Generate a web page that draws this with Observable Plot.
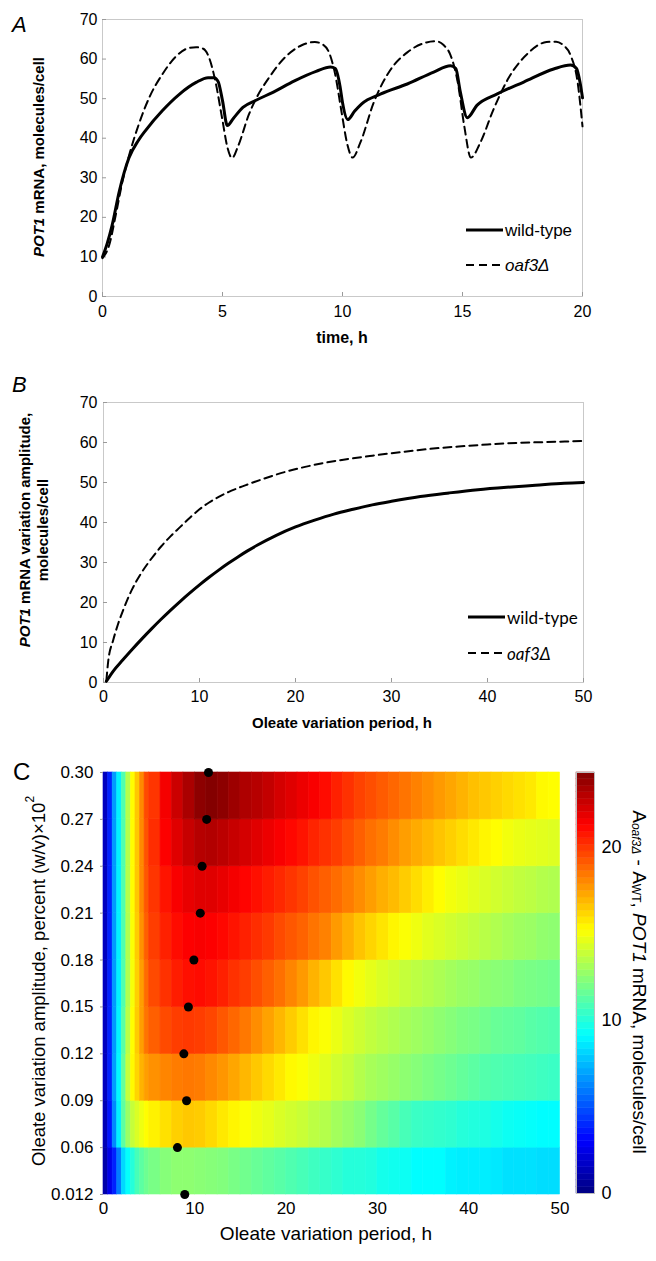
<!DOCTYPE html>
<html><head><meta charset="utf-8">
<script src="https://cdn.jsdelivr.net/npm/d3@7"></script>
<script src="https://cdn.jsdelivr.net/npm/@observablehq/plot@0.6"></script>
<style>
body{margin:0;background:#fff;}
#wrap{position:relative;width:656px;height:1261px;overflow:hidden;font-family:"Liberation Sans",Arial,sans-serif;background:#fff;}
.plab{position:absolute;line-height:1;color:#000;}
</style></head><body><div id="wrap"></div>
<script>
// ---------- Panel A: POT1 mRNA time course ----------
const timeWT = [0,0.2,0.4,0.7,1.1,1.5,1.8,2.5,3.2,3.9,4.4,4.65,4.82,5.0,5.2,5.45,5.85,6.4,7.1,8.0,8.9,9.5,9.7,9.9,10.0,10.22,10.5,10.8,11.6,12.7,13.8,14.5,14.72,14.9,15.2,15.6,16.45,17.55,18.8,19.5,19.75,19.9,20.0];
const mrnaWT = [10,13.5,18,26.6,35,39.5,42,47,51.1,54.1,55.3,55.3,54.3,49.5,43.2,45,47.8,49.6,51.6,54.5,56.9,58,57.6,53,49,44.7,46.8,48.7,51.2,53.7,56.7,58.3,57.6,52,45.2,48.3,51.2,54.2,57.5,58.5,57.6,54,50.2];
const timeOaf = [0,0.28,0.55,0.83,1.1,1.5,1.95,2.5,3.05,3.6,3.9,4.2,4.45,4.7,5.0,5.2,5.4,5.65,6.1,6.4,6.95,7.6,8.3,8.85,9.2,9.45,9.7,9.95,10.2,10.42,10.75,11.3,12.0,12.7,13.5,13.9,14.2,14.5,14.8,15.07,15.35,15.75,16.3,16.9,17.7,18.5,18.9,19.2,19.5,19.8,20.0];
const mrnaOaf = [9.7,13,20.5,29,35.5,43.3,50.3,56.2,60.6,62.8,63,62.6,60.2,54.5,44.5,37.8,35,38,46,50,55.4,60.4,63.5,64.3,63.6,61.5,56,47,38.5,35.1,39,49,57.3,61.7,64.2,64.5,63.6,61,54.2,43.2,35.1,39,47.4,55,61.3,64.3,64.4,63.5,61,54,43];
const xTicksA = [0,5,10,15,20];
const yTicks = [0,10,20,30,40,50,60,70];

// ---------- Panel B: variation amplitude vs period ----------
const periodWT = [0.3,1,2,3,4,5,6,7,8,9,10,11,12,13,14,15,16,18,20,22,24,26,28,30,33,36,39,42,45,48,50];
const amplWT = [0.3,2.8,5.6,8.3,10.9,13.4,15.8,18.1,20.3,22.4,24.4,26.3,28.1,29.8,31.4,32.9,34.3,36.8,38.9,40.6,42.1,43.3,44.4,45.3,46.5,47.4,48.2,48.8,49.3,49.8,50];
const periodOaf = [0.3,0.5,1,1.5,2,2.5,3,4,5,6,7,8,9,10,11,12,13,14,15,17,19,21,23,25,28,31,34,37,40,43,46,50];
const amplOaf = [0.5,5.5,10.5,14.5,17.8,20.8,23.4,27.6,31,34,36.6,38.9,41.2,43.3,45,46.4,47.6,48.6,49.5,51.2,52.7,53.9,54.9,55.7,56.7,57.6,58.4,59,59.5,59.9,60.1,60.4];
const xTicksB = [0,10,20,30,40,50];

// ---------- Panel C: heat map ----------
const ampLabels = ["0.012","0.06","0.09","0.12","0.15","0.18","0.21","0.24","0.27","0.30"];
const periodEdges = [0,0.5,1,1.5,2,2.5,3,3.5,4,4.5,5,6.25,7.5,8.75,10,11.25,12.5,13.75,15,16.25,17.5,18.75,20,21.25,22.5,23.75,25,26.25,27.5,28.75,30,31.25,32.5,33.75,35,36.25,37.5,38.75,40,41.25,42.5,43.75,45,46.25,47.5,48.75,50];
const diff0012 = [1,2.5,3.8,6,8.2,9.2,10,10.8,11.3,11.7, 12,12.3,12.5,12.5,12.4,12.3,12.2,12,11.8,11.6,11.4,11.2,11,10.8,10.6,10.4,10.2,10,10,9.9,9.6,9.5,9.4,9.1,9.1,9.1,8.8,8.7,8.7,8.7,8.6,8.4,8.4,8.4,8.3,8.3];
const diff006 = [1.3,3.5,6.3,8.8,11.3,12.8,13.8,14.3,14.8,15.2, 15.5,15.9,16.3,16.5,16.4,16.1,15.7,15.4,15.1,14.8,14.6,14.3,14.1,13.9,13.6,13.4,13,12.7,12.4,11.9,11.5,11.2,10.8,10.5,10.4,10.3,10.2,10,9.9,9.8,9.6,9.4,9.3,9.2,9.1,9.1];
const diff009 = [1.5,3.8,6.8,9,11.5,13.8,15.3,16.2,17,17.5, 17.8,18.1,18.3,18.4,18.3,18,17.7,17.3,16.9,16.5,16.1,15.7,15.3,15.1,14.8,14.5,14.1,13.8,13.4,13.1,12.9,12.7,12.5,12.3,12.1,11.9,11.7,11.5,11.3,11.1,11,10.9,10.8,10.7,10.6,10.5];
const diff012 = [1.5,3.8,6.7,8.9,11.2,13.5,15.2,16.4,17.5,18.5, 19,19.5,19.8,19.9,19.8,19.6,19.2,18.8,18.4,17.9,17.4,16.9,16.4,15.9,15.4,15.1,14.7,14.3,14,13.7,13.5,13.3,13.1,12.9,12.7,12.5,12.3,12.1,12,11.8,11.6,11.5,11.4,11.2,11.1,11];
const diff015 = [1.5,3.8,6.7,8.8,11,13.3,15,16.3,17.5,18.7, 19.5,20.1,20.6,20.9,21,20.8,20.5,20.1,19.8,19.4,19,18.6,18.1,17.6,17,16.5,15.9,15.3,14.9,14.6,14.3,14.1,13.8,13.6,13.4,13.2,13,12.8,12.7,12.5,12.4,12.3,12.1,12,11.9,11.8];
const diff018 = [1.5,3.8,6.7,8.8,11,13.3,15.1,16.4,17.8,19, 19.8,20.5,21,21.3,21.4,21.3,21.1,20.8,20.5,20.2,19.9,19.5,19.2,18.9,18.5,18.2,17.6,17.1,16.6,16.2,15.8,15.4,15.1,14.8,14.5,14.3,14.1,13.9,13.7,13.5,13.3,13.1,12.9,12.8,12.6,12.5];
const diff021 = [1.5,3.8,6.7,8.8,11,13.4,15.2,16.5,18,19.2, 20,20.8,21.4,21.8,22,22,21.8,21.5,21.2,20.9,20.6,20.3,20,19.7,19.3,19,18.7,18.3,17.9,17.5,17.1,16.8,16.4,16,15.6,15.2,14.9,14.7,14.5,14.3,14.1,13.9,13.7,13.6,13.4,13.3];
const diff024 = [1.5,3.8,6.7,8.8,11,13.4,15.2,16.5,18,19.3, 20.2,21.3,22,22.6,23,23.1,22.9,22.6,22.3,22,21.7,21.4,21.1,20.8,20.4,20.1,19.8,19.4,19,18.6,18.3,17.9,17.5,17.2,16.9,16.6,16.3,16,15.7,15.4,15.2,14.9,14.7,14.6,14.5,14.4];
const diff027 = [1.5,3.8,6.7,8.8,11,13.4,15.2,16.5,18,19.5, 20,21.5,22.5,23.3,24,24.2,24,23.6,23.2,23,22.7,22.3,22,21.7,21.4,21,20.5,20.1,19.7,19.4,19.1,18.8,18.5,18.2,17.9,17.6,17.3,17,16.7,16.5,16.3,16.1,15.9,15.7,15.3,15.2];
const peakPeriod = [8.9,8.1,9.1,8.8,9.3,9.9,10.6,10.8,11.3,11.5];
const xTicksC = [0,10,20,30,40,50];
const colorTicks = [0,10,20];
const colorMax = 24.3;

// ---------- helpers ----------
const FONT = '"Liberation Sans", Arial, Helvetica, sans-serif';
const wrap = document.getElementById("wrap");
function place(node, left, top) {
  node.style.position = "absolute"; node.style.left = left + "px"; node.style.top = top + "px";
  wrap.appendChild(node);
}
function svgText(svg, x, y, rotate, parts, o) {
  const t = d3.select(svg).append("text")
    .attr("transform", `translate(${x},${y}) rotate(${rotate})`)
    .attr("text-anchor", o.anchor || "middle")
    .attr("dominant-baseline", "central")
    .attr("fill", "black")
    .style("font-family", o.family || FONT)
    .style("font-size", o.size + "px")
    .style("font-weight", o.weight || "normal");
  for (const p of parts) {
    const ts = t.append("tspan").text(p.t);
    if (p.italic) ts.style("font-style", "italic");
    if (p.size) ts.style("font-size", p.size + "px");
    if (p.dy) ts.attr("dy", p.dy);
  }
  return t;
}
function legendItem(svg, x, y, dashed, parts, family, size) {
  const g = d3.select(svg).append("g");
  g.append("line").attr("x1", x).attr("x2", x + 37).attr("y1", y).attr("y2", y)
    .attr("stroke", "black").attr("stroke-width", dashed ? 2 : 3)
    .attr("stroke-dasharray", dashed ? "8,5" : null);
  svgText(svg, x + 39, y, 0, parts, {anchor: "start", family, size});
}
function label(text, left, top, size, italic) {
  const d = document.createElement("div");
  d.className = "plab"; d.textContent = text;
  d.style.left = left + "px"; d.style.top = top + "px";
  d.style.fontSize = size + "px"; d.style.fontStyle = italic ? "italic" : "normal";
  wrap.appendChild(d);
}

const jetColors = ["#000080", "#0000ff", "#00ffff", "#ffff00", "#ff0000", "#800000"];
const jetScale = {type: "linear", domain: [0, 0.125, 0.375, 0.625, 0.875, 1].map(t => t * colorMax), range: jetColors, interpolate: "rgb"};

// ---------- Panel A ----------
const wtA = timeWT.map((t, i) => ({t, v: mrnaWT[i]}));
const oafA = timeOaf.map((t, i) => ({t, v: mrnaOaf[i]}));
const plotA = Plot.plot({
  width: 656, height: 350, marginLeft: 102, marginRight: 74, marginTop: 19, marginBottom: 54,
  style: {fontFamily: FONT, fontSize: "16px", background: "transparent", overflow: "visible", color: "black"},
  x: {domain: [0, 20]}, y: {domain: [0, 70]},
  marks: [
    Plot.frame({stroke: "#c9c9c9"}),
    Plot.axisX({ticks: xTicksA, tickSize: -4, tickPadding: 13, stroke: "#9a9a9a", fill: "black", fontSize: 16, label: null}),
    Plot.axisY({ticks: yTicks, tickSize: -4, tickPadding: 9, stroke: "#9a9a9a", fill: "black", fontSize: 16, label: null}),
    Plot.line(oafA, {x: "t", y: "v", stroke: "black", strokeWidth: 2, strokeDasharray: "8,5", curve: "monotone-x"}),
    Plot.line(wtA, {x: "t", y: "v", stroke: "black", strokeWidth: 3, curve: "monotone-x"})
  ]
});
place(plotA, 0, 0);
svgText(plotA, 38, 157, -90, [{t: "POT1", italic: true}, {t: " mRNA, molecules/cell"}], {size: 15, weight: "bold"});
svgText(plotA, 342, 337, 0, [{t: "time, h"}], {size: 16, weight: "bold"});
legendItem(plotA, 466, 230, false, [{t: "wild-type"}], FONT, 17);
legendItem(plotA, 466, 265, true, [{t: "oaf3Δ", italic: true}], FONT, 17);
label("A", 12, 14, 22, true);

// ---------- Panel B ----------
const wtB = periodWT.map((p, i) => ({p, v: amplWT[i]}));
const oafB = periodOaf.map((p, i) => ({p, v: amplOaf[i]}));
const plotB = Plot.plot({
  width: 656, height: 390, marginLeft: 103, marginRight: 73, marginTop: 52, marginBottom: 58,
  style: {fontFamily: FONT, fontSize: "16px", background: "transparent", overflow: "visible", color: "black"},
  x: {domain: [0, 50]}, y: {domain: [0, 70]},
  marks: [
    Plot.frame({stroke: "#c9c9c9"}),
    Plot.axisX({ticks: xTicksB, tickSize: -4, tickPadding: 12, stroke: "#9a9a9a", fill: "black", fontSize: 16, label: null}),
    Plot.axisY({ticks: yTicks, tickSize: -4, tickPadding: 10, stroke: "#9a9a9a", fill: "black", fontSize: 16, label: null}),
    Plot.line(oafB, {x: "p", y: "v", stroke: "black", strokeWidth: 2, strokeDasharray: "8,5", curve: "monotone-x"}),
    Plot.line(wtB, {x: "p", y: "v", stroke: "black", strokeWidth: 3, curve: "monotone-x"})
  ]
});
place(plotB, 0, 350);
svgText(plotB, 24, 180, -90, [{t: "POT1", italic: true}, {t: " mRNA variation amplitude,"}], {size: 15, weight: "bold"});
svgText(plotB, 42, 180, -90, [{t: "molecules/cell"}], {size: 15, weight: "bold"});
svgText(plotB, 342, 372, 0, [{t: "Oleate variation period, h"}], {size: 15, weight: "bold"});
legendItem(plotB, 468, 267, false, [{t: "wild-type"}], "Lato, " + FONT, 17);
legendItem(plotB, 468, 303, true, [{t: "oaf3Δ", italic: true}], "Lato, " + FONT, 17);
label("B", 12, 374, 22, true);

// ---------- Panel C ----------
const rowsC = [diff0012, diff006, diff009, diff012, diff015, diff018, diff021, diff024, diff027];
const cells = rowsC.flatMap((vals, i) => vals.map((v, j) => ({x1: periodEdges[j], x2: periodEdges[j + 1], y1: i, y2: i + 1, v})));
const peaks = peakPeriod.map((p, i) => ({p, a: i}));
const ampIndex = ampLabels.map((_, i) => i);
const plotC = Plot.plot({
  width: 656, height: 521, marginLeft: 103, marginRight: 96.5, marginTop: 32, marginBottom: 67,
  style: {fontFamily: FONT, fontSize: "17px", background: "transparent", overflow: "visible", color: "black"},
  x: {domain: [0, 50]}, y: {domain: [0, ampLabels.length - 1]},
  color: jetScale,
  marks: [
    Plot.rect(cells, {x1: "x1", x2: "x2", y1: "y1", y2: "y2", fill: "v", stroke: "v", strokeWidth: 0.6}),
    Plot.axisX({ticks: xTicksC, tickSize: 0, tickPadding: 7, fill: "black", fontSize: 17, label: null}),
    Plot.axisY({ticks: ampIndex, tickFormat: i => ampLabels[i], tickSize: 3, tickPadding: 7, stroke: "#9a9a9a", fill: "black", fontSize: 17, label: null}),
    Plot.dot(peaks, {x: "p", y: "a", r: 4.5, fill: "black"})
  ]
});
place(plotC, 0, 740);
svgText(plotC, 38, 241, -90, [{t: "Oleate variation amplitude, percent (w/v)×10"}, {t: "2", size: 12, dy: -8}], {size: 18.5});
svgText(plotC, 326, 493, 0, [{t: "Oleate variation period, h"}], {size: 19});
label("C", 13, 760, 24, false);

// ---------- Colorbar ----------
const nBands = 64;
const bands = d3.range(nBands).map(i => ({y1: i * colorMax / nBands, y2: (i + 1) * colorMax / nBands, v: (i + 0.5) * colorMax / nBands}));
const plotBar = Plot.plot({
  width: 96, height: 521, marginLeft: 16, marginRight: 62, marginTop: 32, marginBottom: 68,
  style: {fontFamily: FONT, fontSize: "18px", background: "transparent", overflow: "visible", color: "black"},
  x: {domain: [0, 1], axis: null}, y: {domain: [0, colorMax]},
  color: jetScale,
  marks: [
    Plot.rect(bands, {x1: () => 0, x2: () => 1, y1: "y1", y2: "y2", fill: "v", stroke: "v", strokeWidth: 0.5}),
    Plot.frame({stroke: "#bdbdbd"}),
    Plot.axisY({anchor: "right", ticks: colorTicks, tickSize: 0, tickPadding: 7, fill: "black", fontSize: 18, label: null})
  ]
});
place(plotBar, 560, 740);
svgText(plotBar, 80, 242, 90, [
  {t: "A"}, {t: "oaf3Δ", italic: true, size: 12, dy: 4}, {t: " - A", dy: -4}, {t: "WT", size: 12, dy: 4},
  {t: ", ", dy: -4}, {t: "POT1", italic: true}, {t: " mRNA, molecules/cell"}
], {size: 19});
</script></body></html>
